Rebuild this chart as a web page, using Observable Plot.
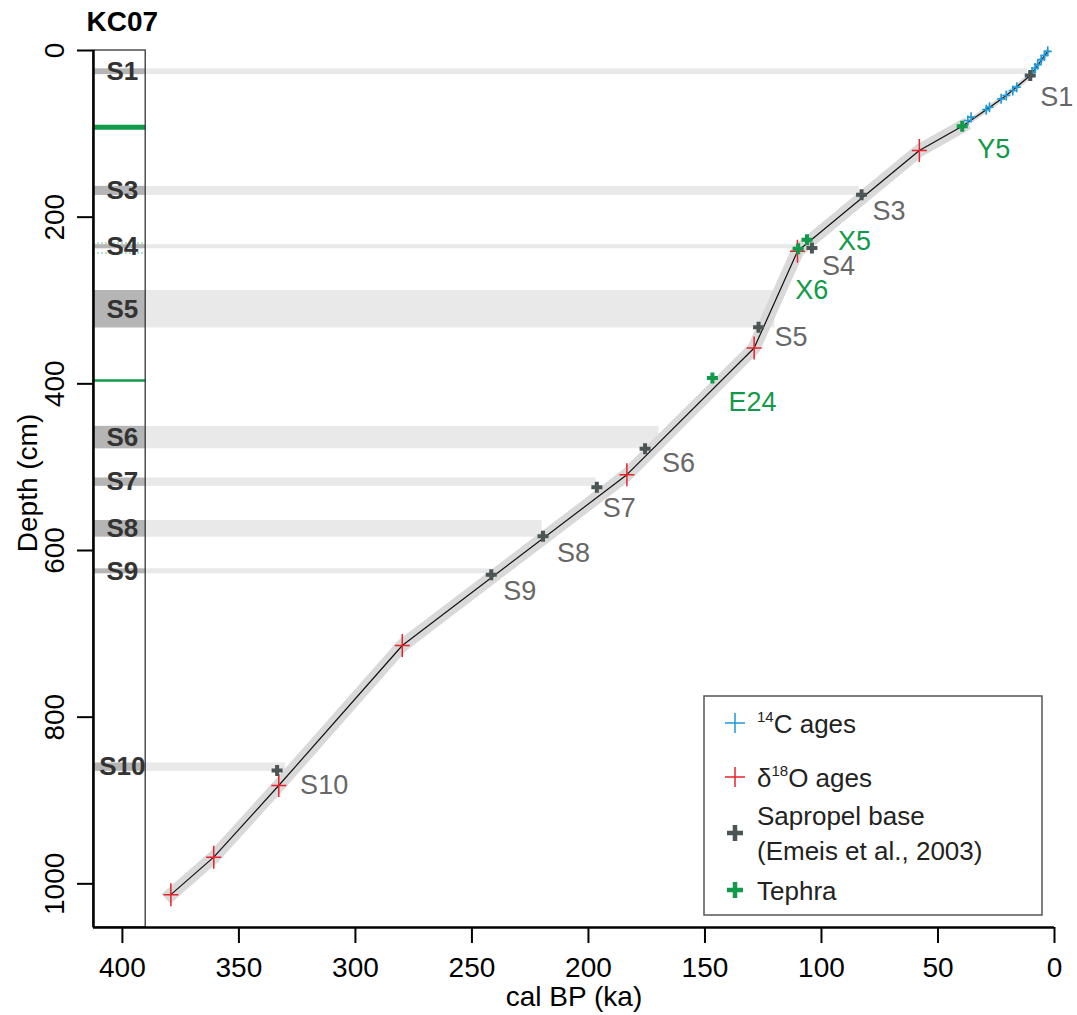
<!DOCTYPE html>
<html><head><meta charset="utf-8">
<script src="https://cdn.jsdelivr.net/npm/d3@7"></script>
<script src="https://cdn.jsdelivr.net/npm/@observablehq/plot@0.6"></script>
<style>
body{margin:0;background:#fff;font-family:"Liberation Sans",Arial,sans-serif;}
#chart{position:relative;width:1077px;height:1015px;}
</style></head><body><div id="chart"></div>
<script>
// ---------------- data ----------------
const coreName = "KC07";
const xLabel = "cal BP (ka)";
const yLabel = "Depth (cm)";
const xTicks = [400, 350, 300, 250, 200, 150, 100, 50, 0];
const yTicks = [0, 200, 400, 600, 800, 1000];

const sapropelNames = ["S1", "S3", "S4", "S5", "S6", "S7", "S8", "S9", "S10"];
const sapropelTop = [22, 163, 233, 288, 451, 513, 564, 622, 855];
const sapropelBottom = [29, 174, 238, 333, 478, 523, 584, 628, 865];
const sapropelBandEndAge = [11.6, 83.8, 110, 120, 169.7, 196.7, 219.9, 241.8, 329.9];
const sapropelBaseAge = [10.4, 82.8, 104.1, 127.0, 175.7, 196.4, 219.5, 241.7, 333.6];
const sapropelBaseDepth = [30, 173, 237, 332, 478, 524, 583, 629, 864];

const c14Age = [2.9, 4.3, 5.7, 7.2, 8.3, 9.6, 16.2, 17.9, 20.7, 22.9, 27.9, 29.3, 35.8, 37.2];
const c14Depth = [1, 6, 11, 17, 21, 26, 44, 48, 54, 58, 68, 71, 80, 84];

const d18OAge = [58.0, 110.3, 128.9, 183.5, 279.9, 332.9, 360.8, 379.2];
const d18ODepth = [120, 241, 357, 509, 714, 882, 968, 1013];

const tephraNames = ["Y5", "X5", "X6", "E24"];
const tephraAge = [39.6, 106.2, 110.0, 146.8];
const tephraDepth = [91, 227, 238, 393];
const tephraLayerDepth = [92, 231, 243, 396];

const modelAge = [2.9, 10.4, 20.7, 29.3, 39.6, 58.0, 110.3, 128.9, 183.5, 279.9, 332.9, 360.8, 379.2];
const modelDepth = [1, 30, 54, 71, 91, 120, 241, 357, 509, 714, 882, 968, 1013];

const legendLabels = ["C ages", "O ages", "Sapropel base", "(Emeis et al., 2003)", "Tephra"];

// ---------------- build ----------------
const X0 = 412.4, CORE_R = 390, YMAX = 1052.4;
const FONT = '"Liberation Sans", Arial, sans-serif';
const C = {band:"#e9e9e9", core:"#b5b5b5", model:"#d9d9d9", red:"#e8232b", blue:"#1f9ad8",
           dark:"#4b5555", green:"#119a4a", labelGray:"#676767"};

const saps = sapropelNames.map((name, i) => ({name, top: sapropelTop[i], bottom: sapropelBottom[i],
  end: sapropelBandEndAge[i], age: sapropelBaseAge[i], depth: sapropelBaseDepth[i]}));
const c14 = c14Age.map((a, i) => ({age: a, depth: c14Depth[i]}));
const d18 = d18OAge.map((a, i) => ({age: a, depth: d18ODepth[i]}));
const teph = tephraNames.map((name, i) => ({name, age: tephraAge[i], depth: tephraDepth[i], layer: tephraLayerDepth[i]}));
const model = modelAge.map((a, i) => ({age: a, depth: modelDepth[i]}));
const y5Age = tephraAge[0];
const modelUpper = model.filter(d => d.age <= y5Age);
const modelLower = model.filter(d => d.age >= y5Age);

const cross = (hx, hy) => ({draw(ctx) { ctx.moveTo(-hx, 0); ctx.lineTo(hx, 0); ctx.moveTo(0, -hy); ctx.lineTo(0, hy); }});

const nudge = {S1:[10,22], S3:[11,17], S4:[10,18], S5:[16,10], S6:[17,15], S7:[6,21], S8:[14,17], S9:[12,17], S10:[23,15],
               Y5:[15,23], X5:[31,2], X6:[-3,42], E24:[16,24]};

const sapLabelMarks = saps.map(s => Plot.text([s], {x: "age", y: "depth", text: "name", dx: nudge[s.name][0], dy: nudge[s.name][1],
  textAnchor: "start", lineAnchor: "middle", fontSize: 27, fill: C.labelGray}));
const tephLabelMarks = teph.map(t => Plot.text([t], {x: "age", y: "depth", text: "name", dx: nudge[t.name][0], dy: nudge[t.name][1],
  textAnchor: "start", lineAnchor: "middle", fontSize: 27, fill: C.green}));

const plot = Plot.plot({
  width: 1077, height: 1015,
  marginLeft: 93, marginRight: 23, marginTop: 50, marginBottom: 88,
  style: {fontFamily: FONT, background: "white", color: "black", overflow: "visible"},
  x: {domain: [X0, 0]},
  y: {domain: [0, YMAX], reverse: true},
  marks: [
    Plot.rect(saps, {x1: CORE_R, x2: "end", y1: "top", y2: "bottom", fill: C.band}),
    Plot.rect(saps, {x1: X0, x2: CORE_R, y1: "top", y2: "bottom", fill: C.core}),
    Plot.ruleY(teph.filter(t => t.name === "Y5"), {y: "layer", x1: X0, x2: CORE_R, stroke: C.green, strokeWidth: 5}),
    Plot.ruleY(teph.filter(t => t.name === "E24"), {y: "layer", x1: X0, x2: CORE_R, stroke: C.green, strokeWidth: 2.5}),
    Plot.ruleY(teph.filter(t => t.name === "X5" || t.name === "X6"), {y: "layer", x1: X0, x2: CORE_R, stroke: "#6cc293", strokeWidth: 1, strokeDasharray: "2,2"}),
    Plot.text(saps, {x: 400, y: d => (d.top + d.bottom) / 2, text: "name", fontWeight: "bold", fontSize: 26, fill: "#333", lineAnchor: "middle"}),
    Plot.rect([0], {x1: X0, x2: CORE_R, y1: 0, y2: YMAX, fill: "none", stroke: "#333", strokeWidth: 1.3}),
    Plot.line(modelUpper, {x: "age", y: "depth", stroke: C.model, strokeWidth: 5, strokeLinejoin: "round"}),
    Plot.line(modelLower, {x: "age", y: "depth", stroke: C.model, strokeWidth: 13, strokeLinejoin: "round", strokeLinecap: "square"}),
    Plot.line(model, {x: "age", y: "depth", stroke: "#111", strokeWidth: 1.2}),
    Plot.dot(c14, {x: "age", y: "depth", symbol: cross(4, 5), fill: "none", stroke: C.blue, strokeWidth: 1.6}),
    Plot.dot(d18, {x: "age", y: "depth", symbol: cross(7.5, 11.5), fill: "none", stroke: C.red, strokeWidth: 1.5}),
    Plot.dot(saps, {x: "age", y: "depth", symbol: cross(5.5, 5.5), fill: "none", stroke: C.dark, strokeWidth: 4}),
    Plot.dot(teph, {x: "age", y: "depth", symbol: cross(5.5, 5.5), fill: "none", stroke: C.green, strokeWidth: 4}),
    ...sapLabelMarks,
    ...tephLabelMarks,
    Plot.ruleX([X0], {stroke: "black", strokeWidth: 2.5}),
    Plot.ruleY([YMAX], {stroke: "black", strokeWidth: 2.5}),
    Plot.axisX(xTicks, {tickSize: 16, tickPadding: 14, fontSize: 28, strokeWidth: 2, label: null, tickFormat: d => String(d)}),
    Plot.axisY(yTicks, {tickSize: 16, fontSize: 28, strokeWidth: 2, label: null, tickFormat: () => ""}),
    Plot.text(yTicks, {y: d => d, text: d => String(d), frameAnchor: "left", dx: -38, rotate: -90, fontSize: 28,
      textAnchor: "middle", lineAnchor: "middle", fill: "black"}),
    Plot.text([yLabel], {text: d => d, frameAnchor: "left", dx: -65, dy: -6, rotate: -90, fontSize: 28, textAnchor: "middle", lineAnchor: "middle"}),
    Plot.text([xLabel], {text: d => d, frameAnchor: "bottom", dy: 70, fontSize: 28, textAnchor: "middle", lineAnchor: "middle"}),
    Plot.text([coreName], {text: d => d, frameAnchor: "top-left", dx: -7, dy: -28, fontSize: 28, fontWeight: "bold",
      textAnchor: "start", lineAnchor: "middle"})
  ]
});

document.getElementById("chart").appendChild(plot);

// ---------------- legend ----------------
const svg = d3.select(plot);
const lg = svg.append("g").attr("font-family", FONT).attr("font-size", 26).attr("fill", "#222").attr("text-anchor", "start");
lg.append("rect").attr("x", 704).attr("y", 696).attr("width", 338).attr("height", 219)
  .attr("fill", "white").attr("stroke", "#555").attr("stroke-width", 1.5);
function legendCross(cx, cy, h, color, w) {
  lg.append("path").attr("d", `M${cx - h},${cy}H${cx + h}M${cx},${cy - h}V${cy + h}`)
    .attr("stroke", color).attr("stroke-width", w).attr("fill", "none");
}
legendCross(735, 723, 10, C.blue, 1.5);
legendCross(735, 777, 10, C.red, 1.5);
legendCross(735, 833, 8, C.dark, 4.5);
legendCross(735, 890, 8, C.green, 4.5);
const t1 = lg.append("text").attr("x", 757).attr("y", 733);
t1.append("tspan").attr("font-size", 15).attr("dy", -11).text("14");
t1.append("tspan").attr("dy", 11).text(legendLabels[0]);
const t2 = lg.append("text").attr("x", 757).attr("y", 787);
t2.append("tspan").text("δ");
t2.append("tspan").attr("font-size", 15).attr("dy", -11).text("18");
t2.append("tspan").attr("dy", 11).text(legendLabels[1]);
lg.append("text").attr("x", 757).attr("y", 825).text(legendLabels[2]);
lg.append("text").attr("x", 757).attr("y", 860).text(legendLabels[3]);
lg.append("text").attr("x", 757).attr("y", 900).text(legendLabels[4]);
</script>
</body></html>
